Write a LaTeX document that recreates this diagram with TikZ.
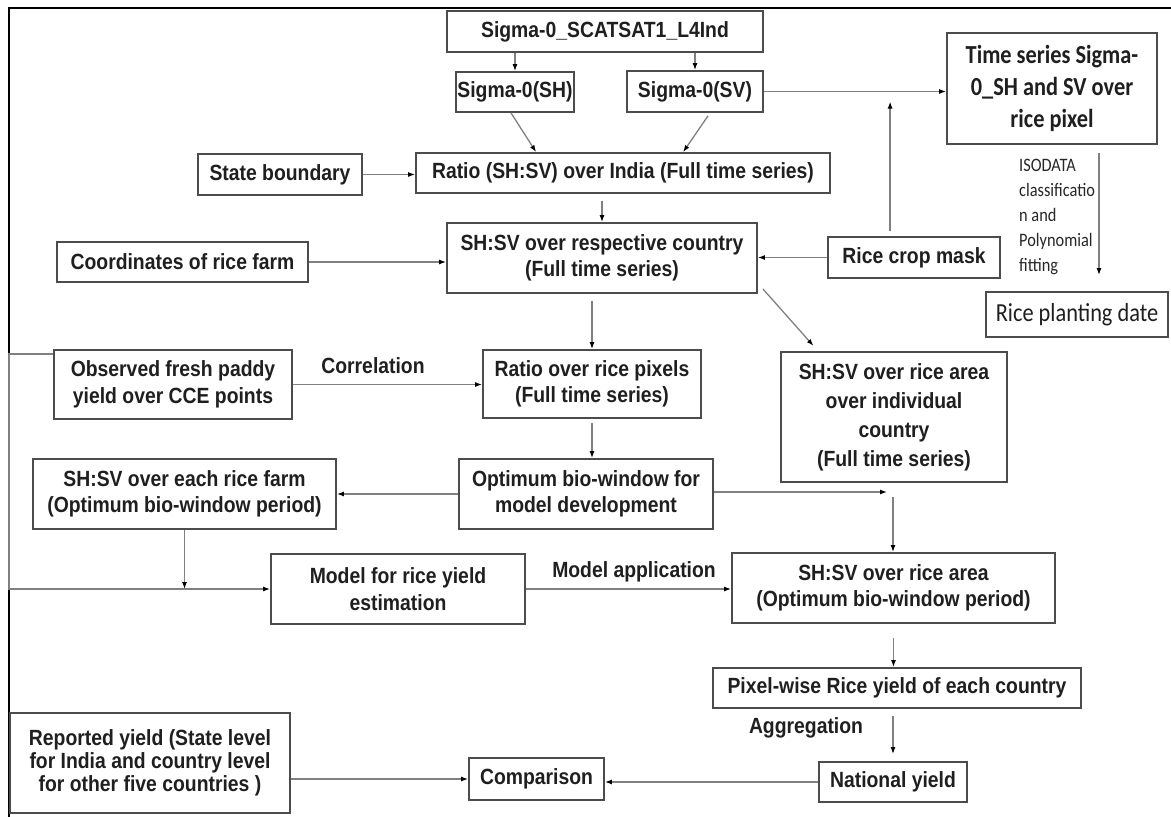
\documentclass[tikz,border=0pt]{standalone}
\usepackage{fontspec}
\setmainfont{Liberation Sans}[FakeStretch=0.88]
\newfontfamily\calfont{Carlito}[FakeStretch=0.86]
\usetikzlibrary{arrows.meta}
\newcommand\flowfont{\fontsize{22}{26.5}\selectfont\bfseries}

\begin{document}
\begin{tikzpicture}[x=1pt, y=-1pt,
  box/.style={draw=black!70, line width=1.8pt, fill=white, inner sep=0pt,
    align=center, font=\flowfont, text=black!88},
  arr/.style={draw=black!50, line width=1.3pt,
    -{Latex[length=7pt, width=5pt, color=black]}},
  lbl/.style={font=\flowfont, text=black!88, inner sep=0pt}]
  \useasboundingbox (0,0) rectangle (1171,817);
  % outer frame, left and top edge only
  \draw[line width=2pt] (9,817) -- (9,8) -- (1171,8);
  % satellite input
  \node[box, minimum width=316pt, minimum height=41pt] (scat) at (605,31.5)
    {Sigma-0\_SCATSAT1\_L4Ind};
  \node[box, minimum width=118pt, minimum height=40pt] (sh) at (515,92)
    {Sigma-0(SH)};
  \node[box, minimum width=136pt, minimum height=41pt] (sv) at (695,91.5)
    {Sigma-0(SV)};
  \node[box, minimum width=210pt, minimum height=111pt,
    font={\calfont\bfseries\fontsize{26}{32}\selectfont}] (tseries) at (1052,88.5)
    {Time series Sigma-\\0\_SH and SV over\\rice pixel};
  % ratio and masks
  \node[box, minimum width=164pt, minimum height=41pt] (state) at (280,174.5)
    {State boundary};
  \node[box, minimum width=414pt, minimum height=40pt] (ratio) at (623,173)
    {Ratio (SH:SV) over India (Full time series)};
  \node[box, minimum width=251pt, minimum height=40pt] (coord) at (182.5,262)
    {Coordinates of rice farm};
  \node[box, minimum width=310pt, minimum height=70pt] (resp) at (602,258)
    {SH:SV over respective country\\(Full time series)};
  \node[box, minimum width=172pt, minimum height=41pt] (mask) at (914,257.5)
    {Rice crop mask};
  \node[box, minimum width=182pt, minimum height=45pt,
    font={\calfont\fontsize{26}{32}\selectfont}] (plant) at (1077,314.5)
    {Rice planting date};
  \node[font={\calfont\fontsize{19}{25}\selectfont}, text=black!85, align=left,
    anchor=west, inner sep=0pt] (isolbl) at (1019,217)
    {ISODATA\\classificatio\\n and\\Polynomial\\fitting};
  % model development
  \node[box, minimum width=238pt, minimum height=69pt] (observed) at (173,384.5)
    {Observed fresh paddy\\yield over CCE points};
  \node[box, minimum width=218pt, minimum height=68pt] (ricepix) at (592,384)
    {Ratio over rice pixels\\(Full time series)};
  \node[box, minimum width=226pt, minimum height=130pt,
    font={\fontsize{22}{29}\selectfont\bfseries}] (indiv) at (894,417)
    {SH:SV over rice area\\over individual\\country\\(Full time series)};
  \node[box, minimum width=303pt, minimum height=70pt] (farm) at (184.5,494)
    {SH:SV over each rice farm\\(Optimum bio-window period)};
  \node[box, minimum width=254pt, minimum height=70pt] (optimum) at (586,494)
    {Optimum bio-window for\\model development};
  \node[box, minimum width=254pt, minimum height=70pt] (model) at (398,589)
    {Model for rice yield\\estimation};
  \node[box, minimum width=323pt, minimum height=70pt] (area) at (893.5,588)
    {SH:SV over rice area\\(Optimum bio-window period)};
  % yield and comparison
  \node[box, minimum width=368pt, minimum height=40pt] (pixel) at (897,688)
    {Pixel-wise Rice yield of each country};
  \node[box, minimum width=148pt, minimum height=40pt] (national) at (893,782)
    {National yield};
  \node[box, minimum width=280pt, minimum height=100pt,
    font={\fontsize{22}{23}\selectfont\bfseries}] (reported) at (150,763)
    {Reported yield (State level\\for India and country level\\for other five countries )};
  \node[box, minimum width=135pt, minimum height=42pt] (compar) at (536.5,779)
    {Comparison};
  % connectors
  \draw[arr] (sh.north |- scat.south) -- (sh.north);
  \draw[arr] (sv.north |- scat.south) -- (sv.north);
  \draw[arr] ([xshift=-4pt]sh.south) -- ([xshift=121pt]ratio.north west);
  \draw[arr] ([xshift=13pt,yshift=-3pt]sv.south) -- ([xshift=268pt]ratio.north west);
  \draw[arr] (sv.east) -- (sv.east -| tseries.west);
  \coordinate (maskup) at ([xshift=63pt]mask.north west);
  \draw[arr, shorten <=5pt, shorten >=10pt] (maskup) -- (maskup |- sv.east);
  \draw[arr, shorten <=8pt, shorten >=16pt] ([xshift=47pt]tseries.south)
    -- ([xshift=22pt]plant.north);
  \draw[arr] (state.east) -- (state.east -| ratio.west);
  \draw[arr, shorten <=7pt] (resp.north |- ratio.south) -- (resp.north);
  \draw[arr] (coord.east) -- (coord.east -| resp.west);
  \draw[arr] (mask.west) -- (mask.west -| resp.east);
  \draw[arr, shorten >=7pt] ([xshift=5pt,yshift=5pt]resp.south east)
    -- ([xshift=38pt]indiv.north west);
  \draw[arr, shorten <=7pt] (ricepix.north |- resp.south) -- (ricepix.north);
  \draw[arr] (observed.east) -- (observed.east -| ricepix.west);
  \node[lbl] (corrlbl) at (373,366) {Correlation};
  \draw[arr, shorten <=4pt] (ricepix.south) -- (ricepix.south |- optimum.north);
  \draw[arr] (optimum.west) -- (farm.east);
  \coordinate (split) at (893,492);
  \draw[arr, shorten >=6pt] ([yshift=2pt]optimum.east) -- (split);
  \draw[arr, shorten <=5pt] (split) -- (split |- area.north);
  \draw[arr] (farm.south) -- (farm.south |- model.west);
  \draw[arr] ([yshift=-5pt]observed.north west) -- ++(-44,0) |- (model.west);
  \draw[arr] (model.east) -- (model.east -| area.west);
  \node[lbl] (applbl) at (634,572) {Model application};
  \draw[arr, shorten <=14pt] (area.south) -- (area.south |- pixel.north);
  \draw[arr, shorten <=7pt, shorten >=7pt] (national.north |- pixel.south)
    -- (national.north);
  \node[lbl] (agglbl) at (806,728) {Aggregation};
  \draw[arr] (national.west) -- (national.west -| compar.east);
  \draw[arr] (reported.east |- compar.west) -- (compar.west);
\end{tikzpicture}
\end{document}
